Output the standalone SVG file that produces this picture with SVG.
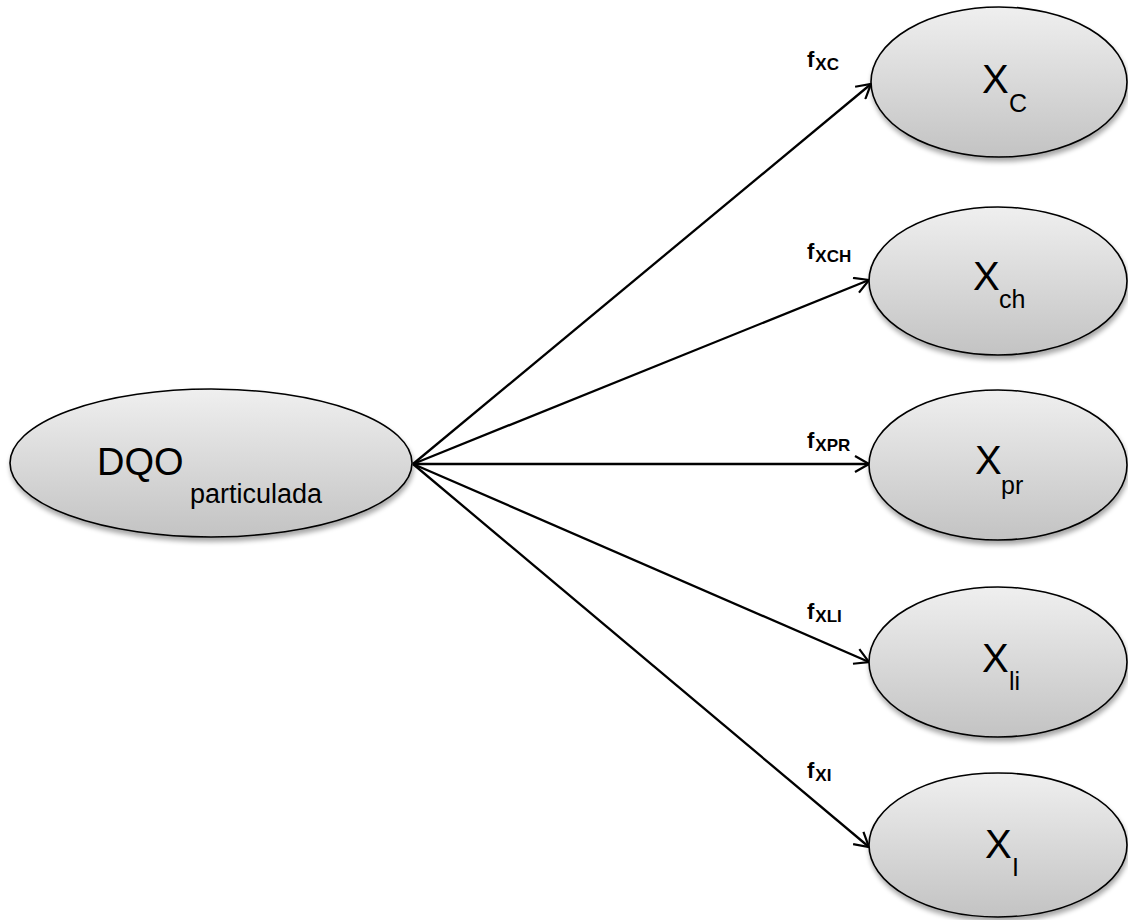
<svg xmlns="http://www.w3.org/2000/svg" width="1128" height="920" viewBox="0 0 1128 920">
  <defs>
    <linearGradient id="shade" x1="0" y1="0" x2="0" y2="1">
      <stop offset="0" stop-color="#efefef"/>
      <stop offset="1" stop-color="#c3c3c3"/>
    </linearGradient>
    <filter id="drop" x="-10%" y="-10%" width="125%" height="130%">
      <feGaussianBlur in="SourceAlpha" stdDeviation="2.5"/>
      <feOffset dx="1" dy="4" result="b"/>
      <feComponentTransfer><feFuncA type="linear" slope="0.35"/></feComponentTransfer>
      <feMerge><feMergeNode/><feMergeNode in="SourceGraphic"/></feMerge>
    </filter>
    <marker id="arrow" viewBox="0 0 16 18" refX="15" refY="9" markerWidth="16" markerHeight="18" markerUnits="userSpaceOnUse" orient="auto">
      <path d="M1,1 L15,9 L1,17" fill="none" stroke="#000" stroke-width="2.2"/>
    </marker>
  </defs>
  <style>
    .node { fill: url(#shade); stroke: #000; stroke-width: 1.6; filter: url(#drop); }
    .main { font-family: "Liberation Sans", Arial, sans-serif; fill: #000; }
    .big { font-size: 40px; }
    .sub { font-size: 25px; }
    .lbl { font-family: "Liberation Sans", Arial, sans-serif; font-weight: bold; fill: #000; }
    .edge { stroke: #000; stroke-width: 2.3; fill: none; marker-end: url(#arrow); }
  </style>

  <rect width="1128" height="920" fill="#fff"/>

  <!-- connectors -->
  <g id="connectors">
    <line class="edge" x1="413" y1="464" x2="871" y2="84"/>
    <line class="edge" x1="413" y1="464" x2="869" y2="280"/>
    <line class="edge" x1="413" y1="464" x2="869" y2="464"/>
    <line class="edge" x1="413" y1="464" x2="869" y2="662"/>
    <line class="edge" x1="413" y1="464" x2="869" y2="847"/>
    <text class="lbl" x="807" y="67"><tspan font-size="22">f</tspan><tspan font-size="17" dx="1" dy="3">XC</tspan></text>
    <text class="lbl" x="807" y="259"><tspan font-size="22">f</tspan><tspan font-size="17" dx="1" dy="3">XCH</tspan></text>
    <text class="lbl" x="807" y="448"><tspan font-size="22">f</tspan><tspan font-size="17" dx="1" dy="3">XPR</tspan></text>
    <text class="lbl" x="807" y="619"><tspan font-size="22">f</tspan><tspan font-size="17" dx="1" dy="3">XLI</tspan></text>
    <text class="lbl" x="807" y="778"><tspan font-size="22">f</tspan><tspan font-size="17" dx="1" dy="3">XI</tspan></text>
  </g>

  <!-- source node -->
  <g id="node-dqo">
    <ellipse class="node" cx="211" cy="463" rx="201" ry="74"/>
    <text class="main" x="97" y="475" font-size="38">DQO</text>
    <text class="main" x="190" y="503" font-size="27">particulada</text>
  </g>

  <!-- fraction nodes -->
  <g id="node-xc">
    <ellipse class="node" cx="999" cy="82" rx="128" ry="75"/>
    <text class="main big" x="982" y="93">X</text>
    <text class="main sub" x="1009" y="112">C</text>
  </g>
  <g id="node-xch">
    <ellipse class="node" cx="998" cy="281" rx="129" ry="74"/>
    <text class="main big" x="973" y="290">X</text>
    <text class="main sub" x="999" y="308">ch</text>
  </g>
  <g id="node-xpr">
    <ellipse class="node" cx="998" cy="465" rx="129" ry="75"/>
    <text class="main big" x="975" y="474">X</text>
    <text class="main sub" x="1001" y="494">pr</text>
  </g>
  <g id="node-xli">
    <ellipse class="node" cx="998" cy="662" rx="129" ry="75"/>
    <text class="main big" x="982" y="672">X</text>
    <text class="main sub" x="1009" y="690">li</text>
  </g>
  <g id="node-xi">
    <ellipse class="node" cx="998" cy="845" rx="129" ry="72"/>
    <text class="main big" x="985" y="858">X</text>
    <text class="main sub" x="1012" y="876">I</text>
  </g>
</svg>
